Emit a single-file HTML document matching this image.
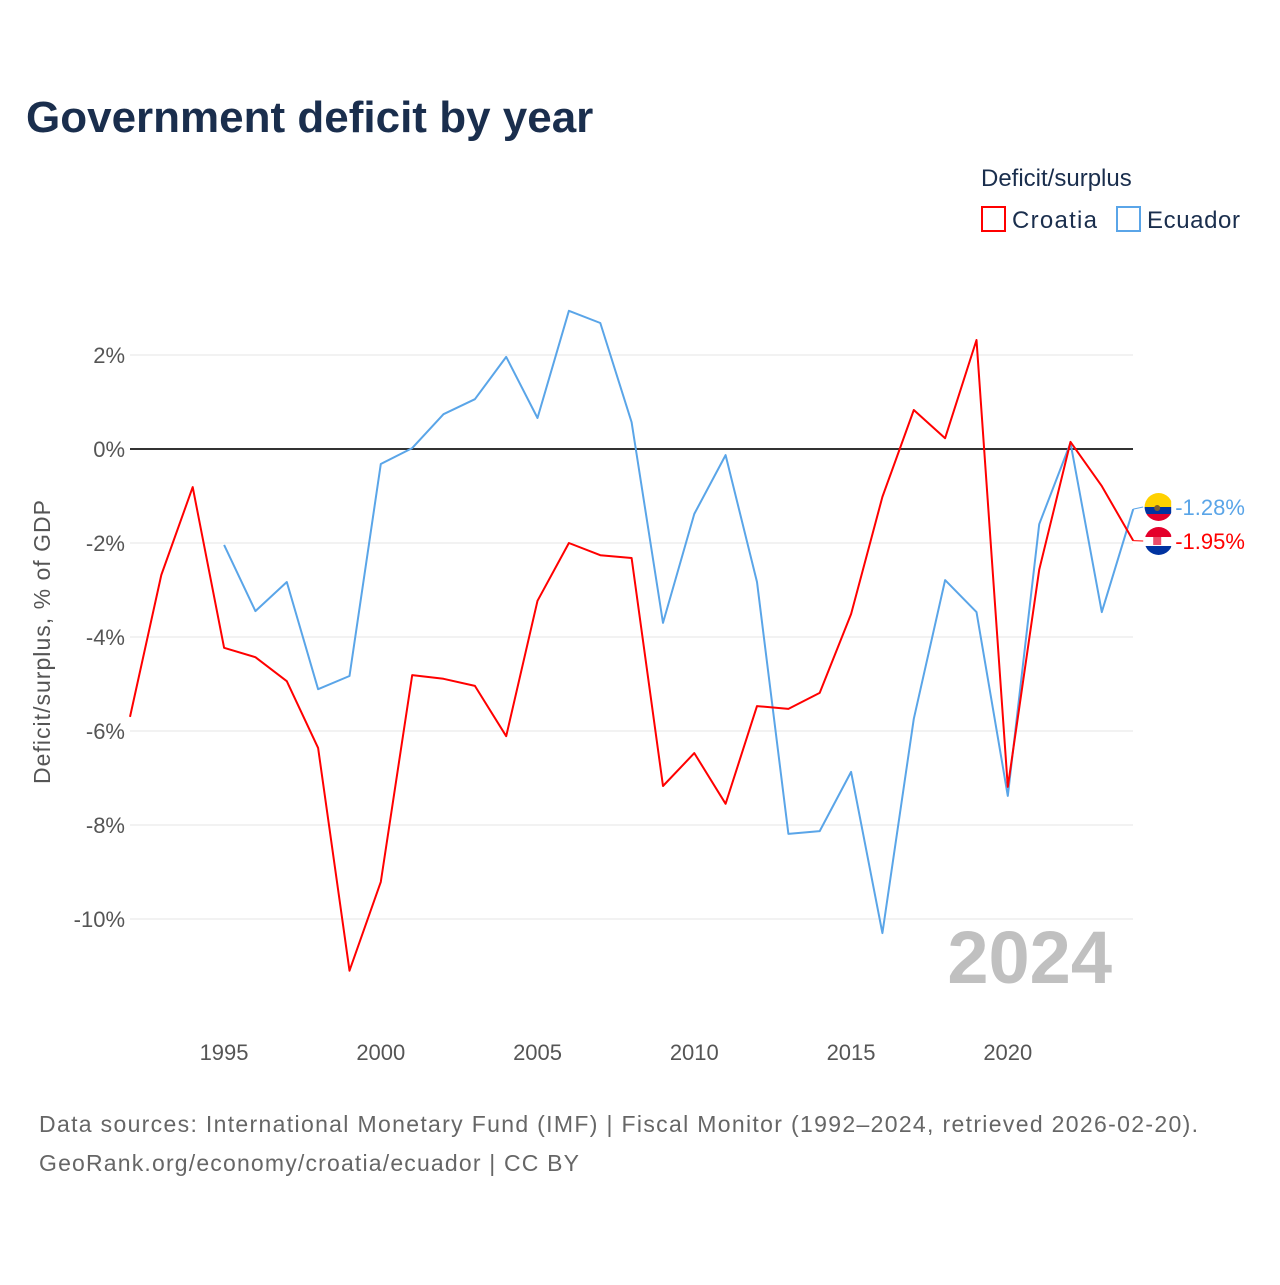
<!DOCTYPE html>
<html><head><meta charset="utf-8"><style>
body{margin:0;background:#fff;font-family:"Liberation Sans",sans-serif;}
svg text{font-family:"Liberation Sans",sans-serif;}
</style></head><body>
<svg id="chart" width="1280" height="1280" xmlns="http://www.w3.org/2000/svg">
<defs>
<clipPath id="cEc"><circle cx="1158.6" cy="507" r="14"/></clipPath>
<clipPath id="cHr"><circle cx="1158.6" cy="541" r="14"/></clipPath>
</defs>
<text x="26" y="132" font-size="44" font-weight="bold" fill="#1a2e4d">Government deficit by year</text>
<g>
<text x="981" y="186" font-size="24" fill="#1a2e4d">Deficit/surplus</text>
<rect x="982" y="207" width="23" height="24" fill="none" stroke="#ff0000" stroke-width="2"/>
<text x="1012" y="228" font-size="24" fill="#1a2e4d" textLength="85">Croatia</text>
<rect x="1117" y="207" width="23" height="24" fill="none" stroke="#5aa5e8" stroke-width="2"/>
<text x="1147" y="228" font-size="24" fill="#1a2e4d" textLength="93">Ecuador</text>
</g>
<g id="grid"></g>
<g id="yticks"></g>
<g id="xticks"></g>
<text transform="translate(50,642) rotate(-90)" text-anchor="middle" font-size="23" fill="#555" textLength="284">Deficit/surplus, % of GDP</text>
<text x="1112" y="983" text-anchor="end" font-size="74" font-weight="bold" fill="#c0c0c0">2024</text>
<g id="series"></g>
<text x="39" y="1132" font-size="23" fill="#666" textLength="1159">Data sources: International Monetary Fund (IMF) | Fiscal Monitor (1992–2024, retrieved 2026-02-20).</text>
<text x="39" y="1171" font-size="23" fill="#666" textLength="540">GeoRank.org/economy/croatia/ecuador | CC BY</text>
</svg>
<script>
const years=[];for(let y=1992;y<=2024;y++)years.push(y);
const croatia=[-5.70,-2.68,-0.81,-4.23,-4.43,-4.94,-6.36,-11.1,-9.21,-4.81,-4.89,-5.04,-6.11,-3.23,-2.0,-2.26,-2.32,-7.17,-6.47,-7.55,-5.47,-5.53,-5.19,-3.51,-1.02,0.83,0.23,2.32,-7.19,-2.57,0.15,-0.79,-1.95];
const ecuador=[null,null,null,-2.04,-3.45,-2.83,-5.11,-4.83,-0.32,0.02,0.74,1.06,1.96,0.66,2.94,2.68,0.57,-3.70,-1.38,-0.13,-2.83,-8.19,-8.13,-6.87,-10.3,-5.74,-2.79,-3.47,-7.38,-1.60,0.13,-3.47,-1.28];
const yTicks=[2,0,-2,-4,-6,-8,-10];
const xTicks=[1995,2000,2005,2010,2015,2020];
const NS="http://www.w3.org/2000/svg";
const X=y=>130+(y-1992)*31.35;
const Y=v=>449-v*47;
function mk(t,a,p){const e=document.createElementNS(NS,t);for(const k in a)e.setAttribute(k,a[k]);p.appendChild(e);return e;}
const grid=document.getElementById('grid'),yt=document.getElementById('yticks'),xt=document.getElementById('xticks'),ser=document.getElementById('series');
yTicks.forEach(v=>{
 const l=mk('line',{x1:130,x2:1133,y1:Y(v),y2:Y(v),stroke:v===0?'#333':'#e6e6e6','stroke-width':v===0?2:1},grid);
 
 
 const t=mk('text',{x:125,y:Y(v)+8,'text-anchor':'end','font-size':22,fill:'#555'},yt);
 t.textContent=v+'%';
 
 
});
xTicks.forEach(v=>{
 const t=mk('text',{x:X(v),y:1060,'text-anchor':'middle','font-size':22,fill:'#555'},xt);
 t.textContent=v;
 
 
});
function line(data,color,name){
 let d='';data.forEach((v,i)=>{if(v===null)return;d+=(d?'L':'M')+X(years[i]).toFixed(1)+','+Y(v).toFixed(1);});
 const p=mk('path',{d:d,fill:'none',stroke:color,'stroke-width':2,'stroke-linejoin':'round'},ser);
 
 
}
line(ecuador,'#5aa5e8','line-ecuador');
line(croatia,'#ff0000','line-croatia');
function endLabel(v,color,name,flag,ly){
 const yy=Y(v),x=X(2024);
 const g=mk('g',{},ser);
 
 
 mk('line',{x1:x,x2:x+10,y1:yy,y2:ly,stroke:color,'stroke-width':1},g);
 const fx=x+10;
 if(flag==='ec'){const f=mk('g',{'clip-path':'url(#cEc)'},g);mk('rect',{x:fx,y:ly-14,width:28,height:14,fill:'#ffd100'},f);mk('rect',{x:fx,y:ly,width:28,height:7,fill:'#0033a0'},f);mk('rect',{x:fx,y:ly+7,width:28,height:7,fill:'#e4002b'},f);mk('circle',{cx:fx+14,cy:ly+1,r:3,fill:'#7a5c2e'},f);}
 else{const f=mk('g',{'clip-path':'url(#cHr)'},g);mk('rect',{x:fx,y:ly-14,width:28,height:10,fill:'#e4002b'},f);mk('rect',{x:fx,y:ly-4,width:28,height:9,fill:'#fff'},f);mk('rect',{x:fx,y:ly+5,width:28,height:9,fill:'#0033a0'},f);mk('rect',{x:fx+10,y:ly-6,width:8,height:10,fill:'#e4002b',opacity:0.7},f);}
 const t=mk('text',{x:x+42,y:ly+8,'font-size':22,fill:color},g);
 t.textContent=v.toFixed(2)+'%';
}
endLabel(ecuador[ecuador.length-1],'#5aa5e8','end-label-ecuador','ec',507);
endLabel(croatia[croatia.length-1],'#ff0000','end-label-croatia','hr',541);
</script>
</body></html>
